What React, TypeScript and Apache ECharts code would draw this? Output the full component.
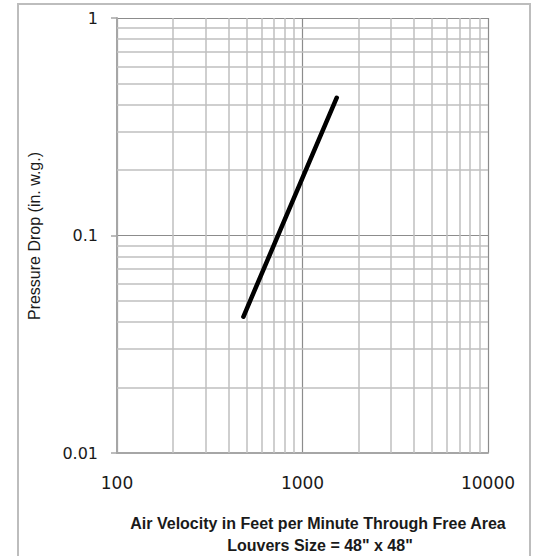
import React, { useEffect, useRef } from "react";
import * as echarts from "echarts";

const velocity = [480, 1000, 1530];
const pressureDrop = [0.0423, 0.184, 0.43];
const xTickLabels = ["100", "1000", "10000"];
const yTickLabels = ["0.01", "0.1", "1"];
const xMinorGrid = [200, 300, 400, 500, 600, 700, 800, 900, 2000, 3000, 4000, 5000, 6000, 7000, 8000, 9000];
const yMinorGrid = [0.02, 0.03, 0.04, 0.05, 0.06, 0.07, 0.08, 0.09, 0.2, 0.3, 0.4, 0.5, 0.6, 0.7, 0.8, 0.9];
const xTitle = "Air Velocity in Feet per Minute Through Free Area";
const xSubtitle = 'Louvers Size = 48" x 48"';
const yTitle = "Pressure Drop (in. w.g.)";

function labelFor(labels: string[], v: number) {
  const hit = labels.find((l) => Math.abs(parseFloat(l) - v) / v < 1e-6);
  return hit ?? "";
}

export default function App() {
  const ref = useRef<HTMLDivElement>(null);
  useEffect(() => {
    if (!ref.current) return;
    const chart = echarts.init(ref.current, undefined, { renderer: "svg" });
    const font = "Liberation Sans";
    const tickFont = "DejaVu Sans";
    chart.setOption({
      animation: false,
      backgroundColor: "#ffffff",
      grid: { left: 117, right: 48, top: 18, bottom: 103, containLabel: false },
      xAxis: {
        type: "log",
        logBase: 10,
        min: 100,
        max: 10000,
        axisLine: { show: true, lineStyle: { color: "#a6a6a6", width: 2 } },
        axisTick: { show: false },
        axisLabel: {
          margin: 21,
          fontSize: 17,
          fontFamily: tickFont,
          color: "#1a1a1a",
          formatter: (v: number) => labelFor(xTickLabels, v),
        },
        splitLine: { show: true, lineStyle: { color: "#8c8c8c", width: 1.2 } },
      },
      yAxis: {
        type: "log",
        logBase: 10,
        min: 0.01,
        max: 1,
        axisLine: { show: true, lineStyle: { color: "#a6a6a6", width: 2 } },
        axisTick: { show: true, length: 6, lineStyle: { color: "#a6a6a6", width: 1.5 } },
        axisLabel: {
          margin: 19,
          fontSize: 16,
          fontFamily: tickFont,
          color: "#1a1a1a",
          formatter: (v: number) => labelFor(yTickLabels, v),
        },
        splitLine: { show: true, lineStyle: { color: "#8c8c8c", width: 1.2 } },
      },
      series: [
        {
          type: "line",
          data: [],
          silent: true,
          markLine: {
            silent: true,
            symbol: "none",
            label: { show: false },
            lineStyle: { color: "#bfbfbf", width: 1.5, type: "solid" },
            data: [
              ...xMinorGrid.map((v) => ({ xAxis: v })),
              ...yMinorGrid.map((v) => ({ yAxis: v })),
            ],
          },
        },
        {
          type: "line",
          data: velocity.map((v, i) => [v, pressureDrop[i]]),
          showSymbol: false,
          symbol: "none",
          lineStyle: { color: "#000000", width: 4.5, cap: "round" },
          z: 5,
        },
      ],
      graphic: [
        {
          type: "rect",
          shape: { x: 18, y: 4, width: 512, height: 560 },
          style: { fill: "none", stroke: "#bdbdbd", lineWidth: 2 },
          silent: true,
        },
        {
          type: "text",
          x: 318,
          y: 523,
          style: {
            text: xTitle,
            font: `bold 16px "${font}"`,
            fill: "#1a1a1a",
            textAlign: "center",
            textVerticalAlign: "middle",
          },
        },
        {
          type: "text",
          x: 320,
          y: 545,
          style: {
            text: xSubtitle,
            font: `bold 16px "${font}"`,
            fill: "#1a1a1a",
            textAlign: "center",
            textVerticalAlign: "middle",
          },
        },
        {
          type: "text",
          x: 34,
          y: 236,
          rotation: Math.PI / 2,
          style: {
            text: yTitle,
            font: `16px "${font}"`,
            fill: "#1a1a1a",
            textAlign: "center",
            textVerticalAlign: "middle",
          },
        },
      ],
    });
    return () => chart.dispose();
  }, []);
  return (
    <div
      ref={ref}
      style={{ position: "fixed", left: 0, top: 0, width: 536, height: 556 }}
    />
  );
}
